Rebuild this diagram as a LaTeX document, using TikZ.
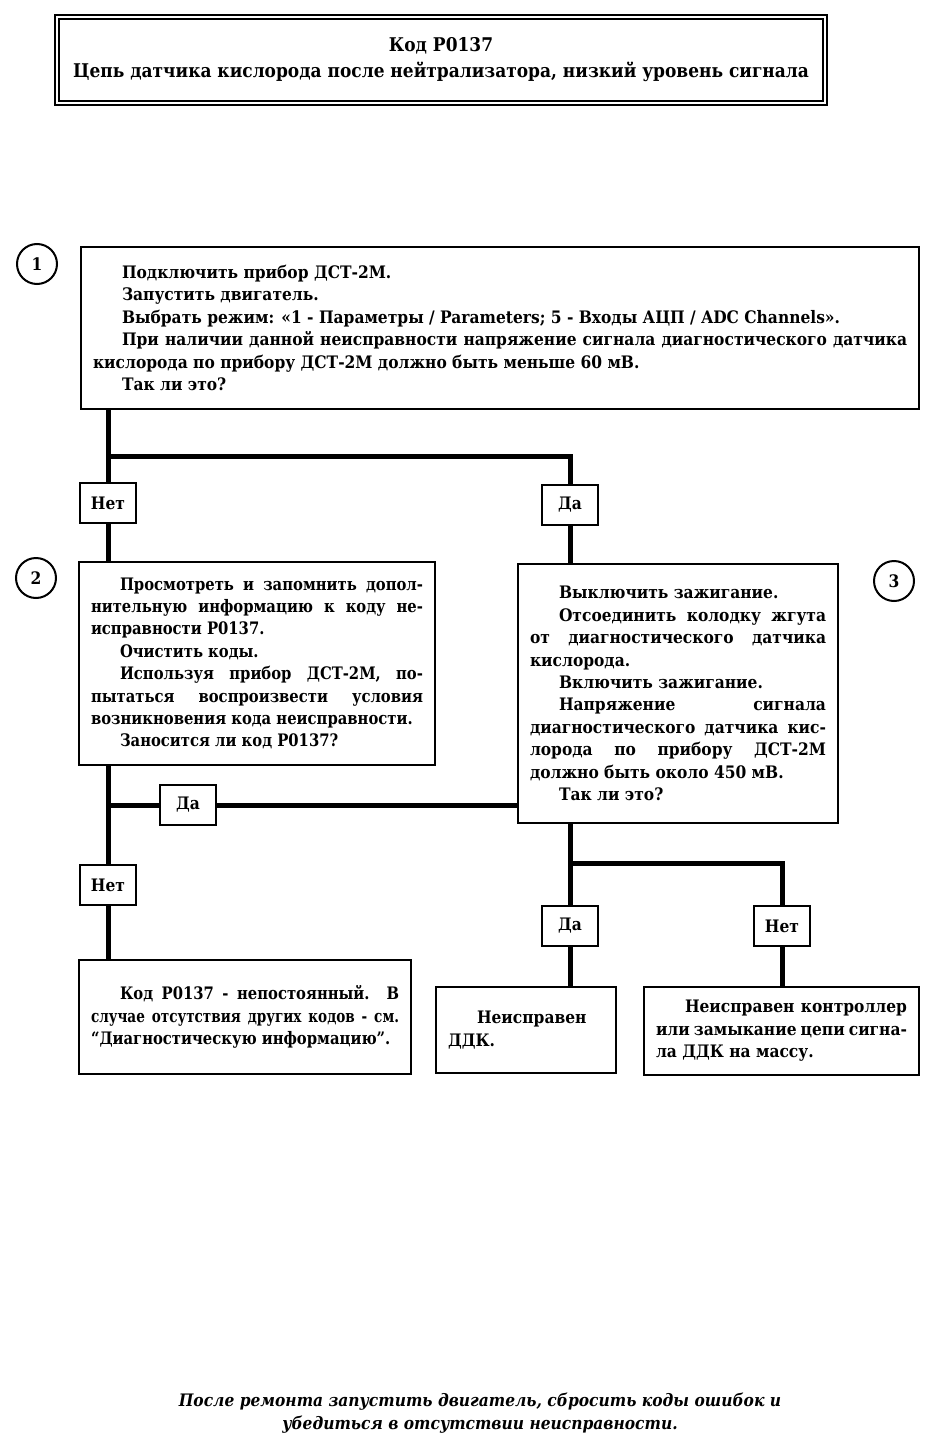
\documentclass[tikz,border=0pt]{standalone}
\usepackage{fontspec}
\setmainfont{DejaVu Serif}[FakeStretch=0.9]
\newfontfamily\condf{DejaVu Serif}[FakeStretch=0.86]
\newfontfamily\narrowf{DejaVu Serif}[FakeStretch=0.79]
\setlength{\parindent}{0pt}
\setlength{\parskip}{0pt}
\newcommand{\ind}{\hspace*{14.5pt}}
\begin{document}
\hyphenpenalty=10000
\begin{tikzpicture}[x=0.5pt,y=-0.5pt,
  box/.style={draw, line width=1pt, inner xsep=6pt, inner ysep=0pt, align=justify,
    font=\bfseries\fontsize{8.6}{11.2}\selectfont},
  condbox/.style={box, font=\condf\bfseries\fontsize{8.6}{11.2}\selectfont},
  lbl/.style={draw, line width=1pt, fill=white, minimum width=28pt, minimum height=20pt,
    inner sep=0pt, font=\bfseries\fontsize{8.6}{11.2}\selectfont},
  num/.style={draw, circle, line width=1pt, minimum size=20pt, inner sep=0pt,
    font=\bfseries\fontsize{8.6}{11.2}\selectfont},
  conn/.style={line width=2.5pt, line join=miter}]
\fill[white] (0,0) rectangle (938,1450);
\useasboundingbox (0,0) rectangle (938,1450);

% title
\node[draw, line width=1pt, double, double distance=1.25pt, minimum width=384pt, minimum height=43pt,
  align=center, font=\bfseries\fontsize{9.45}{13}\selectfont] (title) at (441,60)
  {Код P0137\\Цепь датчика кислорода после нейтрализатора, низкий уровень сигнала};

% circles
\node[num] (c1) at (37,264) {1};
\node[num] (c2) at (36,578) {2};
\node[num] (c3) at (894,581) {3};

% boxes
\node[box, text width=407pt, minimum height=81pt] (b1) at (500,328)
{\ind Подключить прибор ДСТ-2М.\par
\ind Запустить двигатель.\par
\ind Выбрать режим: «1 - Параметры / Parameters; 5 - Входы АЦП / ADC Channels».\par
\ind При наличии данной неисправности напряжение сигнала диагностического датчика\linebreak
кислорода по прибору ДСТ-2М должно быть меньше 60 мВ.\par
\ind Так ли это?};

\node[condbox, text width=166pt, minimum height=101.5pt] (b2) at (257,663.5)
{\ind Просмотреть и запомнить допол-\linebreak
нительную информацию к коду не-\linebreak
исправности P0137.\par
\ind Очистить коды.\par
\ind Используя прибор ДСТ-2М, по-\linebreak
пытаться воспроизвести условия\linebreak
возникновения кода неисправности.\par
\ind Заносится ли код P0137?};

\node[box, text width=148pt, minimum height=129.5pt] (b3) at (678,693.5)
{\ind Выключить зажигание.\par
\ind Отсоединить колодку жгута\linebreak
от диагностического датчика\linebreak
кислорода.\par
\ind Включить зажигание.\par
\ind Напряжение сигнала\linebreak
диагностического датчика кис-\linebreak
лорода по прибору ДСТ-2М\linebreak
должно быть около 450 мВ.\par
\ind Так ли это?};

\node[condbox, text width=154pt, minimum height=57pt] (b4) at (245,1017)
{\ind Код P0137 - непостоянный. В\linebreak
{\narrowf\bfseries случае отсутствия других кодов - см.}\linebreak
“Диагностическую информацию”.};

\node[box, text width=78pt, minimum height=43pt] (b5) at (526,1030)
{\ind Неисправен\\ДДК.};

\node[box, text width=125.5pt, minimum height=44pt] (b6) at (781.5,1031)
{\ind Неисправен контроллер\linebreak
или замыкание цепи сигна-\linebreak
ла ДДК на массу.};

% labels
\node[lbl] (n1) at (108,503) {Нет};
\node[lbl] (d1) at (570,505) {Да};
\node[lbl] (d2) at (188,805) {Да};
\node[lbl] (n2) at (108,885) {Нет};
\node[lbl] (d3) at (570,926) {Да};
\node[lbl] (n3) at (782,926) {Нет};

\coordinate (j1) at (108,456);
\coordinate (j2) at (108,805);
\coordinate (j3) at (570,863);

% connectors
\draw[conn] (b1.south -| n1) -- (n1.north);
\draw[conn] (n1.south) -- (b2.north -| n1);
\draw[conn] (j1) -- (j1 -| d1) -- (d1.north);
\draw[conn] (d1.south) -- (b3.north -| d1);
\draw[conn] (b2.south -| n2) -- (n2.north);
\draw[conn] (n2.south) -- (b4.north -| n2);
\draw[conn] (j2) -- (d2.west);
\draw[conn] (d2.east) -- (d2.east -| b3.west);
\draw[conn] (b3.south -| d3) -- (d3.north);
\draw[conn] (d3.south) -- (b5.north -| d3);
\draw[conn] (j3) -- (j3 -| n3) -- (n3.north);
\draw[conn] (n3.south) -- (b6.north -| n3);

% footer
\node[align=center, font=\bfseries\itshape\fontsize{8.6}{11.5}\selectfont] (foot) at (480,1413)
{После ремонта запустить двигатель, сбросить коды ошибок и\\убедиться в отсутствии неисправности.};
\end{tikzpicture}
\end{document}
